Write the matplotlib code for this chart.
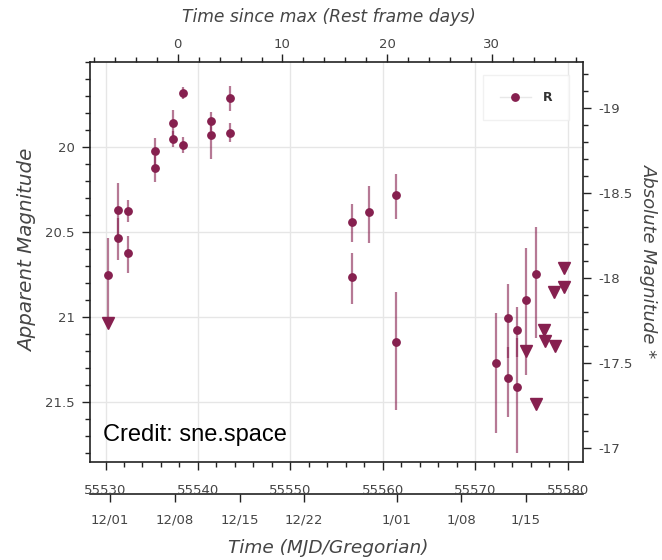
import matplotlib
matplotlib.use("Agg")
import matplotlib.pyplot as plt
from matplotlib.ticker import MultipleLocator, FixedLocator
from matplotlib.lines import Line2D

plt.rcParams['axes.unicode_minus'] = False
plt.rcParams['font.family'] = ['DejaVu Sans']

# ---- data ----
band = "R"
mjd_det = [55530.30, 55531.32, 55531.32, 55532.47, 55532.47, 55535.36, 55535.36,
           55537.33, 55537.33, 55538.41, 55538.41, 55541.42, 55541.42, 55543.48,
           55543.48, 55556.63, 55556.63, 55558.47, 55561.48, 55561.48, 55572.25,
           55573.50, 55573.50, 55574.52, 55574.52, 55575.53, 55576.58]
mag_det = [20.755, 20.372, 20.539, 20.376, 20.627, 20.025, 20.127, 19.859, 19.955,
           19.686, 19.990, 19.847, 19.931, 19.715, 19.918, 20.443, 20.764, 20.385,
           20.284, 21.147, 21.274, 21.006, 21.359, 21.078, 21.412, 20.902, 20.751]
err_bright = [0.22, 0.16, 0.12, 0.063, 0.10, 0.075, 0.075, 0.075, 0.05, 0.035, 0.049,
              0.053, 0.06, 0.072, 0.055, 0.106, 0.138, 0.155, 0.124, 0.292, 0.294,
              0.196, 0.182, 0.137, 0.286, 0.304, 0.28]
err_faint = [0.26, 0.16, 0.128, 0.065, 0.114, 0.08, 0.079, 0.08, 0.049, 0.035, 0.049,
             0.06, 0.143, 0.073, 0.053, 0.12, 0.16, 0.182, 0.141, 0.402, 0.41,
             0.239, 0.229, 0.159, 0.392, 0.441, 0.376]
mjd_ul = [55530.30, 55575.53, 55576.58, 55577.48, 55577.59, 55578.53, 55578.60,
          55579.57, 55579.57]
mag_ul = [21.039, 21.202, 21.515, 21.078, 21.141, 20.853, 21.171, 20.712, 20.824]

t_max_mjd = 55537.82     # time of maximum
redshift = 0.133
dist_mod = 38.77

app_ticks = [20, 20.5, 21, 21.5]
abs_ticks = [-19, -18.5, -18, -17.5, -17]
rest_ticks = [0, 10, 20, 30]
mjd_ticks = [55530, 55540, 55550, 55560, 55570, 55580]
greg_mjd = [55530.5, 55537.5, 55544.5, 55551.5, 55561.5, 55568.5, 55575.5]
greg_labels = ["12/01", "12/08", "12/15", "12/22", "1/01", "1/08", "1/15"]

# ---- style ----
col = '#86204f'
errcol = (0.525, 0.125, 0.31, 0.6)
txtcol = '#454545'
W, H = 662, 560

fig = plt.figure(figsize=(W / 100, H / 100), dpi=100)
L, R, T, B = 90, 583, 61.7, 462.3
ax = fig.add_axes([L / W, 1 - B / H, (R - L) / W, (B - T) / H])

ax.set_xlim(55528.32, 55581.67)
ax.set_ylim(21.857, 19.5)

ax.grid(True, color='#e6e6e6', lw=1.0)
ax.set_axisbelow(True)

ax.errorbar(mjd_det, mag_det, yerr=[err_bright, err_faint], fmt='none',
            ecolor=errcol, elinewidth=1.6, capsize=0, zorder=2)
ax.plot(mjd_det, mag_det, 'o', color=col, ms=5.3, zorder=3, mec=col)
ax.plot(mjd_ul, mag_ul, 'v', color=col, ms=8, zorder=3, mec=col)

for s in ax.spines.values():
    s.set_color('#222222')
    s.set_linewidth(1.2)

ax.set_yticks(app_ticks)
ax.set_yticklabels([f"{v:g}" for v in app_ticks])
ax.yaxis.set_minor_locator(FixedLocator([19.5 + 0.1 * i for i in range(24)]))
ax.set_xticks(mjd_ticks)
ax.set_xticklabels([str(v) for v in mjd_ticks])
ax.xaxis.set_minor_locator(MultipleLocator(2))

ax.tick_params(axis='both', which='major', direction='out', length=6, width=1.0,
               color='#222222', labelcolor=txtcol, labelsize=9.5)
ax.tick_params(axis='both', which='minor', direction='out', length=3.5, width=1.0,
               color='#222222')
ax.tick_params(axis='x', which='major', pad=9.5)
ax.tick_params(axis='y', which='major', pad=5)

# top: rest-frame days since max
top = ax.secondary_xaxis('top', functions=(lambda m: (m - t_max_mjd) / (1 + redshift),
                                           lambda t: t * (1 + redshift) + t_max_mjd))
top.set_xticks(rest_ticks)
top.xaxis.set_minor_locator(MultipleLocator(2))
top.tick_params(which='major', direction='out', length=6, width=1.0, color='#222222',
                labelcolor=txtcol, labelsize=9.5, pad=2)
top.tick_params(which='minor', direction='out', length=3.5, width=1.0, color='#222222')
top.spines['top'].set_visible(False)

# right: absolute magnitude
right = ax.secondary_yaxis('right', functions=(lambda m: m - dist_mod, lambda a: a + dist_mod))
right.set_yticks(abs_ticks)
right.set_yticklabels([f"{v:g}" for v in abs_ticks])
right.yaxis.set_minor_locator(MultipleLocator(0.1))
right.tick_params(which='major', direction='out', length=6, width=1.0, color='#222222',
                  labelcolor=txtcol, labelsize=9.5, pad=5)
right.tick_params(which='minor', direction='out', length=3.5, width=1.0, color='#222222')
right.spines['right'].set_visible(False)

# Gregorian axis below
greg = ax.secondary_xaxis((B - 494) / (B - T))
greg.set_xticks(greg_mjd)
greg.set_xticklabels(greg_labels)
greg.spines['bottom'].set_color('#222222')
greg.spines['bottom'].set_linewidth(1.2)
greg.tick_params(direction='out', length=6, width=1.0, color='#222222',
                 labelcolor=txtcol, labelsize=9.5, pad=8)

# legend
h = Line2D([], [], color='#e8e8e8', lw=1, marker='o', ms=5.3, mfc=col, mec=col)
leg = ax.legend([h], [band], loc='upper right', bbox_to_anchor=(0.972, 0.967),
                frameon=True, fontsize=9, handlelength=2.5, borderpad=1.3,
                handletextpad=1.0, borderaxespad=0, fancybox=False)
leg.get_frame().set_edgecolor('#eeeeee')
leg.get_frame().set_linewidth(1)
for t in leg.get_texts():
    t.set_color('#333333')
    t.set_fontweight('bold')

# axis titles
fig.text(28 / W, 1 - 250 / H, "Apparent Magnitude", rotation=90, ha='center', va='center',
         fontsize=14.3, style='italic', color=txtcol)
fig.text(649 / W, 1 - 261 / H, "Absolute Magnitude *", rotation=270, ha='center', va='center',
         fontsize=13, style='italic', color=txtcol)
fig.text(329 / W, 1 - 17 / H, "Time since max (Rest frame days)", ha='center', va='center',
         fontsize=12.3, style='italic', color=txtcol)
fig.text(328 / W, 1 - 548 / H, "Time (MJD/Gregorian)", ha='center', va='center',
         fontsize=13.3, style='italic', color=txtcol)

fig.text(103 / W, 1 - 441 / H, "Credit: sne.space", ha='left', va='baseline',
         fontsize=17, color='black', family=['Liberation Sans', 'DejaVu Sans'])

fig.savefig('out.png', dpi=100)
